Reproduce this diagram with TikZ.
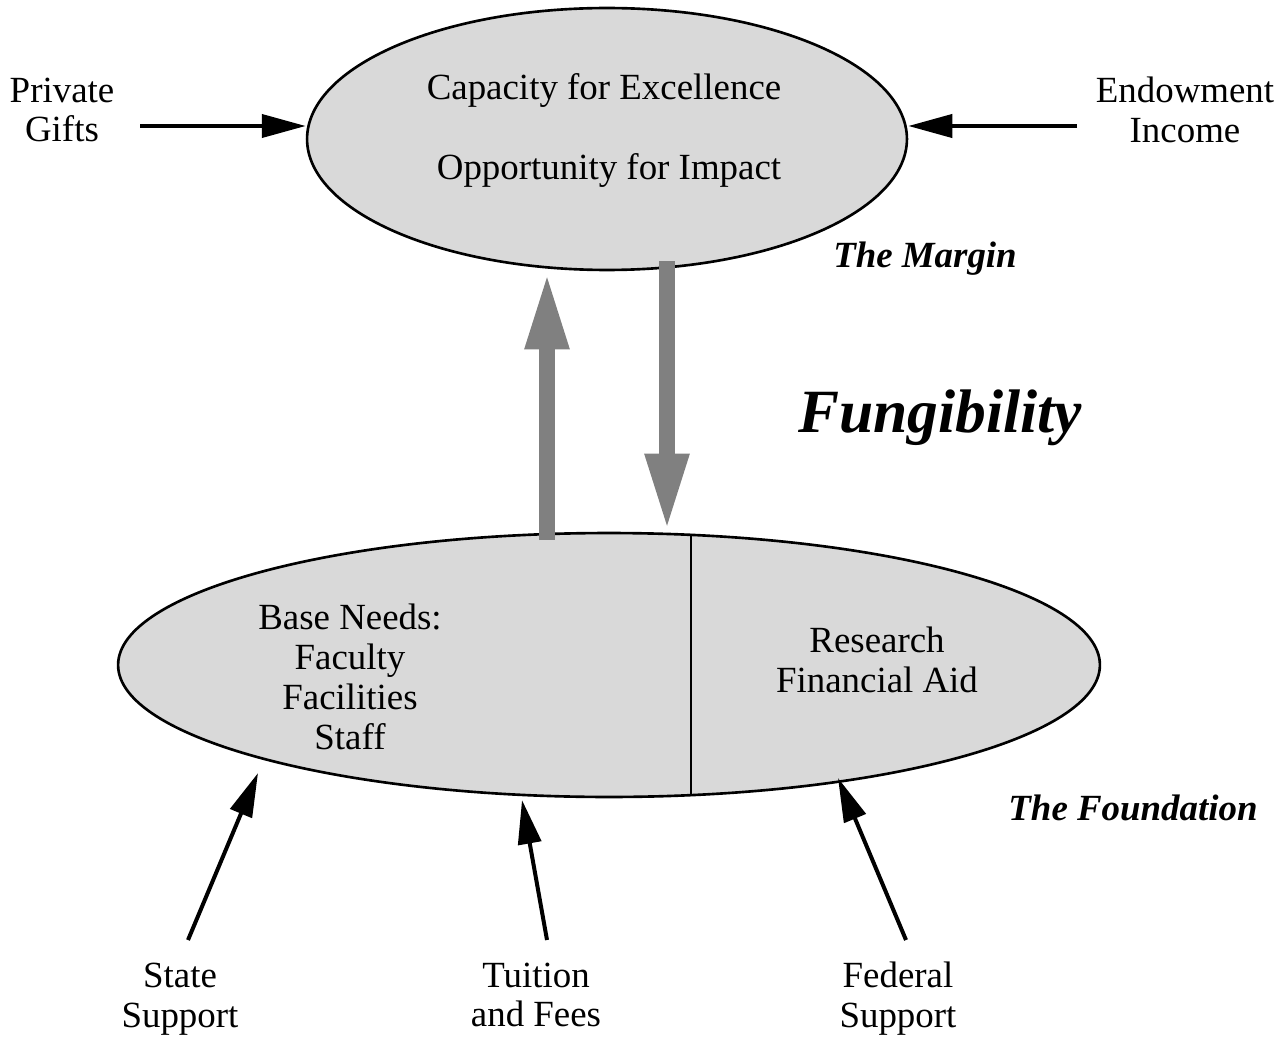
\documentclass[tikz,border=0pt]{standalone}
\usepackage{fontspec}
\setmainfont{Liberation Serif}
\usetikzlibrary{shapes.geometric,arrows.meta}
\definecolor{hatch}{HTML}{D9D9D9}
\definecolor{flow}{HTML}{808080}

\begin{document}
\begin{tikzpicture}[x=0.02cm,y=-0.02cm,
    font=\fontsize{21}{22.7}\selectfont,
    pool/.style={draw,ellipse,fill=hatch,line width=1.5pt,inner sep=0pt},
    source/.style={-{Triangle[length=0.88cm,width=0.46cm]},line width=0.08cm},
    fungible/.style={-{Triangle[length=1.56cm,width=0.8cm]},line width=0.33cm,color=flow},
    tag/.style={font=\fontsize{21}{22.7}\selectfont\bfseries\itshape}]
  \useasboundingbox (0,0) rectangle (1284,1037);
  \node[pool,minimum width=12cm,minimum height=5.24cm] (margin) at (607,139) {};
  \node[pool,minimum width=19.64cm,minimum height=5.28cm] (foundation) at (609,665) {};
  \draw[line width=1.5pt] (foundation.58) -- (foundation.-58);

  \node (excellence) at (604,90) {Capacity for Excellence};
  \node (impact) at (609,170) {Opportunity for Impact};
  \node[align=center] (base) at (350,677) {Base Needs:\\Faculty\\Facilities\\Staff};
  \node[align=center] (research) at (877,660) {Research\\Financial Aid};

  \node[align=center] (gifts) at (62,110) {Private\\Gifts};
  \node[align=center] (endowment) at (1185,110) {Endowment\\Income};
  \node[align=center] (state) at (180,999) {State\\Support};
  \node[align=center] (tuition) at (536,995) {Tuition\\and Fees};
  \node[align=center] (federal) at (898,999) {Federal\\Support};

  \node[tag] (marginname) at (925,259) {The Margin};
  \node[tag] (foundationname) at (1133,808) {The Foundation};
  \node[font=\fontsize{35}{40}\selectfont\bfseries\itshape] (fungibility) at (940,418) {Fungibility};

  \coordinate (giftsfrom) at (140,126);
  \coordinate (endowmentfrom) at (1077,126);
  \draw[source] (giftsfrom) -- (giftsfrom -| margin.west);
  \draw[source] (endowmentfrom) -- (endowmentfrom -| margin.east);

  \coordinate (statefrom) at (188,940);
  \coordinate (stateto) at (258,773);
  \coordinate (tuitionfrom) at (547,940);
  \coordinate (tuitionto) at (522,800);
  \coordinate (federalfrom) at (906,940);
  \coordinate (federalto) at (838,778);
  \draw[source] (statefrom) -- (stateto);
  \draw[source] (tuitionfrom) -- (tuitionto);
  \draw[source] (federalfrom) -- (federalto);

  \coordinate (upfoot) at (547,540);
  \coordinate (downtop) at (667,261);
  \draw[fungible] (upfoot) -- (upfoot |- margin.south);
  \draw[fungible] (downtop) -- (downtop |- foundation.north);
\end{tikzpicture}
\end{document}
